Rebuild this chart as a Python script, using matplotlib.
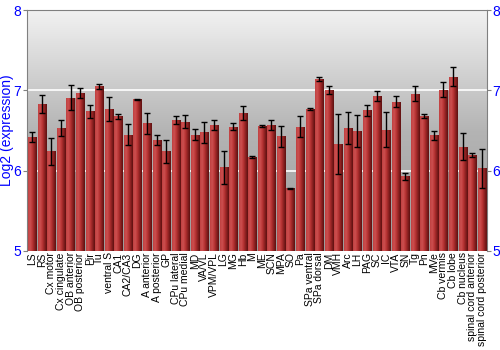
import numpy as np
import matplotlib
matplotlib.use("Agg")
import matplotlib.pyplot as plt
from matplotlib.colors import LinearSegmentedColormap

plt.rcParams['font.family'] = ['Liberation Sans', 'DejaVu Sans']

regions = ["LS", "RS", "Cx motor", "Cx cingulate", "OB anterior", "OB posterior", "Pir", "Tu",
           "ventral S", "CA1", "CA2/CA3", "DG", "A anterior", "A posterior", "GP", "CPu lateral",
           "CPu medial", "MD", "VA/VL", "VPM/VPL", "LG", "MG", "Hb", "M", "ME", "SCN", "MPA", "SO",
           "Pa", "SPa ventral", "SPa dorsal", "DM", "VMH", "Arc", "LH", "PAG", "SC", "IC", "VTA",
           "SN", "Tg", "Pn", "MVe", "Cb vermis", "Cb lobe", "Cb nucleus", "spinal cord anterior",
           "spinal cord posterior"]

expression = [6.42, 6.83, 6.24, 6.53, 6.91, 6.97, 6.74, 7.05,
              6.77, 6.68, 6.45, 6.89, 6.59, 6.38, 6.24, 6.63,
              6.61, 6.45, 6.48, 6.57, 6.04, 6.55, 6.72, 6.17, 6.56, 6.57, 6.43, 5.78,
              6.55, 6.77, 7.14, 7.01, 6.33, 6.53, 6.49, 6.75, 6.93, 6.51, 6.86,
              5.93, 6.96, 6.68, 6.44, 7.01, 7.17, 6.30, 6.19,
              6.03]

errors = [0.06, 0.11, 0.17, 0.10, 0.16, 0.06, 0.08, 0.03,
          0.15, 0.03, 0.13, 0.005, 0.13, 0.06, 0.14, 0.05,
          0.08, 0.07, 0.13, 0.06, 0.20, 0.045, 0.09, 0.01, 0.01, 0.06, 0.13, 0.005,
          0.13, 0.01, 0.025, 0.05, 0.37, 0.20, 0.20, 0.07, 0.06, 0.22, 0.07,
          0.04, 0.09, 0.02, 0.06, 0.09, 0.12, 0.17, 0.025,
          0.24]

fig = plt.figure(figsize=(5, 3.5), dpi=100)
ax = fig.add_axes([0.054, 0.283, 0.92, 0.688])

x = np.arange(len(regions))
width = 0.84
ymin, ymax = 5, 8

# gray background gradient
bg = LinearSegmentedColormap.from_list("bg", ["#9c9c9c", "#b4b4b4", "#f2f2f2"])
grad = np.linspace(0, 1, 256).reshape(-1, 1)
ax.imshow(grad, cmap=bg, aspect="auto", origin="lower",
          extent=[-0.55, len(regions) - 0.45, ymin, ymax], zorder=0)

for yv in [6, 7]:
    ax.axhline(yv, color="white", lw=1.2, zorder=1)

# bars with horizontal red shading
red = LinearSegmentedColormap.from_list("red", ["#c04040", "#cc5050", "#b83434", "#8a2020", "#5e1010"])
hgrad = np.linspace(0, 1, 64).reshape(1, -1)
bars = ax.bar(x, np.array(expression) - ymin, width, bottom=ymin, color="none",
              edgecolor="#8c6060", linewidth=0.4, zorder=2)
for b in bars:
    im = ax.imshow(hgrad, cmap=red, aspect="auto",
                   extent=[b.get_x(), b.get_x() + b.get_width(), ymin, b.get_y() + b.get_height()],
                   zorder=2)
    im.set_clip_path(b)

ax.errorbar(x, expression, yerr=errors, fmt="none", ecolor="black", elinewidth=1,
            capsize=2, capthick=1, zorder=3)

ax.set_xlim(-0.55, len(regions) - 0.45)
ax.set_ylim(ymin, ymax)
ax.set_yticks([5, 6, 7, 8])
ax.tick_params(axis="y", colors="#808080", labelcolor="blue", labelsize=10, length=3,
               left=True, right=True, labelleft=True, labelright=True, pad=1)
ax.set_xticks(x)
ax.set_xticklabels(regions, rotation=90, fontsize=7.5)
ax.tick_params(axis="x", length=0, pad=1)
ax.set_ylabel("Log2 (expression)", color="blue", fontsize=10)
ax.yaxis.set_label_coords(-0.028, 0.5)

for s in ["left", "right", "top"]:
    ax.spines[s].set_color("#808080")
ax.spines["bottom"].set_visible(False)

fig.savefig("out.png", dpi=100)
